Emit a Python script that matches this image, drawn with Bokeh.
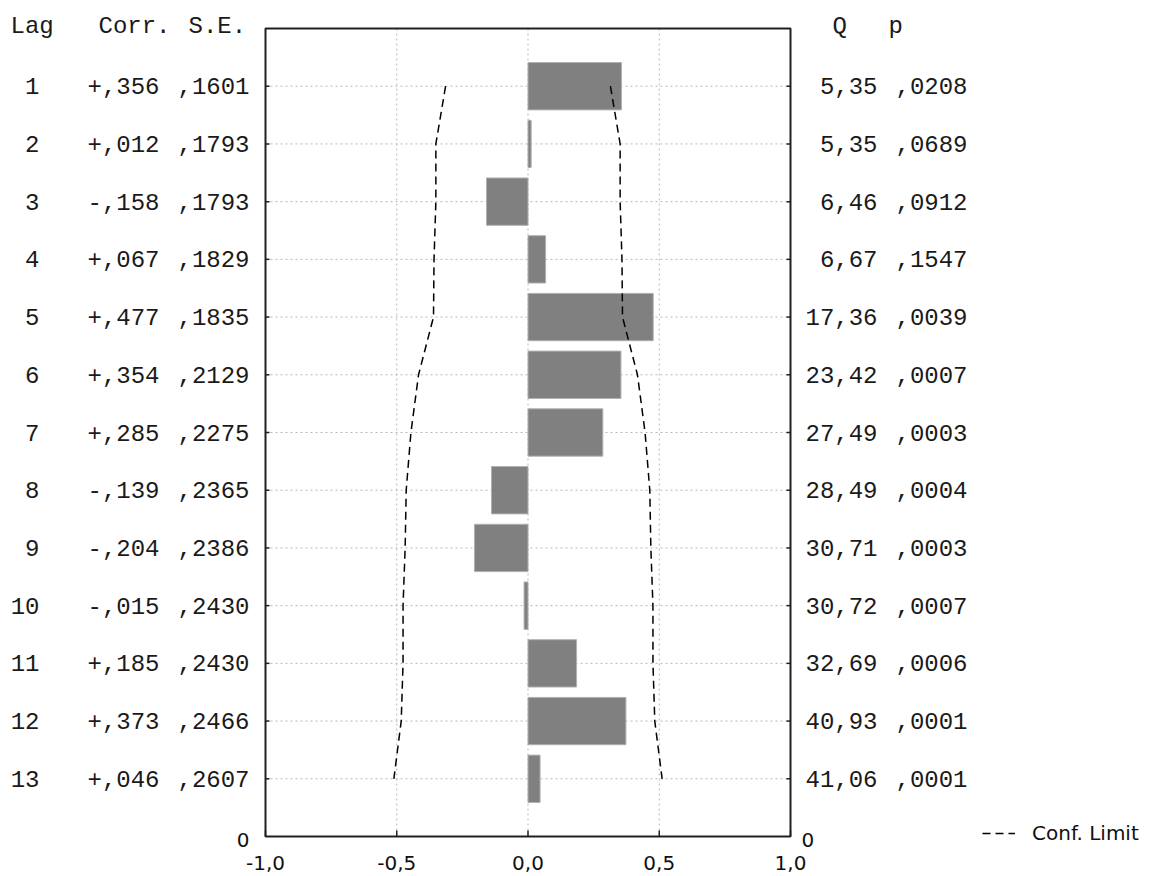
from bokeh.plotting import figure
from bokeh.models import ColumnDataSource, Range1d, Legend, LegendItem
from bokeh.core.properties import value
from bokeh.embed import file_html
from bokeh.resources import INLINE

# ---- data ----
lags = [1, 2, 3, 4, 5, 6, 7, 8, 9, 10, 11, 12, 13]
corr = [0.356, 0.012, -0.158, 0.067, 0.477, 0.354, 0.285, -0.139, -0.204, -0.015, 0.185, 0.373, 0.046]
corr_txt = ["+,356", "+,012", "-,158", "+,067", "+,477", "+,354", "+,285",
            "-,139", "-,204", "-,015", "+,185", "+,373", "+,046"]
se_txt = [",1601", ",1793", ",1793", ",1829", ",1835", ",2129", ",2275",
          ",2365", ",2386", ",2430", ",2430", ",2466", ",2607"]
q_txt = ["5,35", "5,35", "6,46", "6,67", "17,36", "23,42", "27,49",
         "28,49", "30,71", "30,72", "32,69", "40,93", "41,06"]
p_txt = [",0208", ",0689", ",0912", ",1547", ",0039", ",0007", ",0003",
         ",0004", ",0003", ",0007", ",0006", ",0001", ",0001"]
conf = [0.314, 0.351, 0.351, 0.358, 0.360, 0.417, 0.446, 0.464, 0.468, 0.476, 0.476, 0.483, 0.511]
x_ticks = [-1.0, -0.5, 0.0, 0.5, 1.0]
x_tick_labels = ["-1,0", "-0,5", "0,0", "0,5", "1,0"]
grid_x = [-0.5, 0.0, 0.5]
X_MIN, X_MAX = -1.0, 1.0
Y_MIN, Y_MAX = 0.0, 14.0

W, H = 1150, 876
FL, FR, FT, FB = 265, 790, 28, 836   # plot-area edges in pixels
SX = (X_MAX - X_MIN) / (FR - FL)      # data units per pixel
SY = (Y_MAX - Y_MIN) / (FB - FT)

def px2x(px):
    return X_MIN + (px - FL) * SX

def py2y(py):
    return Y_MIN + (py - FT) * SY

p = figure(width=W, height=H, output_backend="svg", toolbar_location=None,
           x_range=Range1d(px2x(0), px2x(W)), y_range=Range1d(py2y(H), py2y(0)),
           x_axis_location=None, y_axis_location=None,
           min_border_left=0, min_border_right=0, min_border_top=0, min_border_bottom=0)
p.background_fill_color = "white"
p.border_fill_color = "white"
p.outline_line_color = None
p.grid.visible = False

GRID = dict(line_color="#b8b8b8", line_dash="2 3", line_width=1)
# vertical grid lines
p.segment(x0=grid_x, x1=grid_x, y0=[Y_MIN] * len(grid_x), y1=[Y_MAX] * len(grid_x), **GRID)
# horizontal grid lines
p.segment(x0=[X_MIN] * len(lags), x1=[X_MAX] * len(lags), y0=lags, y1=lags, **GRID)

# bars
src = ColumnDataSource(dict(lag=lags, corr=corr, zero=[0.0] * len(lags)))
p.hbar(y="lag", left="zero", right="corr", height=0.82, source=src,
       fill_color="#808080", line_color="#b0b0b0", line_width=1)

# confidence limits
neg_conf = [-c for c in conf]
r_conf = p.line(x=conf, y=lags, line_color="black", line_width=1.5, line_dash="8 5")
p.line(x=neg_conf, y=lags, line_color="black", line_width=1.5, line_dash="8 5")

# ticks (inside the frame)
TICK = dict(line_color="#202020", line_width=1.5)
p.segment(x0=x_ticks, x1=x_ticks, y0=[Y_MAX] * len(x_ticks),
          y1=[Y_MAX - 6 * SY] * len(x_ticks), **TICK)
p.segment(x0=[X_MIN] * len(lags), x1=[X_MIN + 4 * SX] * len(lags), y0=lags, y1=lags, **TICK)
p.segment(x0=[X_MAX] * len(lags), x1=[X_MAX - 4 * SX] * len(lags), y0=lags, y1=lags, **TICK)

# frame
p.quad(left=[X_MIN], right=[X_MAX], top=[Y_MIN], bottom=[Y_MAX],
       fill_color=None, line_color="#202020", line_width=2)

# x tick labels
SANS = value("DejaVu Sans")
p.text(x=x_ticks, y=[py2y(862)] * len(x_ticks), text=x_tick_labels, text_align="center",
       text_baseline="middle", text_font=SANS, text_font_size="20px", text_color="#111111")
# the "0" labels at the bottom corners
p.text(x=[px2x(249)], y=[py2y(839)], text=["0"], text_align="right", text_baseline="middle",
       text_font=SANS, text_font_size="20px", text_color="#111111")
p.text(x=[px2x(801)], y=[py2y(839)], text=["0"], text_align="left", text_baseline="middle",
       text_font=SANS, text_font_size="20px", text_color="#111111")

# text columns
MONO = value("Liberation Mono")
FS = "24px"
n = len(lags)
for texts, px in (([str(v) for v in lags], 39), (corr_txt, 159), (se_txt, 249),
                  (q_txt, 877), (p_txt, 967)):
    p.text(x=[px2x(px)] * n, y=lags, text=texts, text_align="right", text_baseline="middle",
           text_font=MONO, text_font_size=FS, text_color="#1a1a1a")

headers = ["Lag", "Corr.", "S.E.", "Q", "p"]
header_px = [10, 98, 188, 832, 888]
p.text(x=[px2x(v) for v in header_px], y=[py2y(26)] * len(headers), text=headers,
       text_align="left", text_baseline="middle", text_font=MONO, text_font_size=FS,
       text_color="#1a1a1a")

legend = Legend(items=[LegendItem(label="Conf. Limit", renderers=[r_conf])],
                location=(982, H - 845), orientation="vertical",
                padding=0, margin=0, border_line_color=None, background_fill_alpha=0,
                glyph_width=33, glyph_height=20, label_standoff=17, label_height=20,
                label_text_font="DejaVu Sans", label_text_font_size="20px",
                label_text_color="#111111")
p.add_layout(legend, "center")

open("out.html", "w").write(file_html(p, INLINE))
